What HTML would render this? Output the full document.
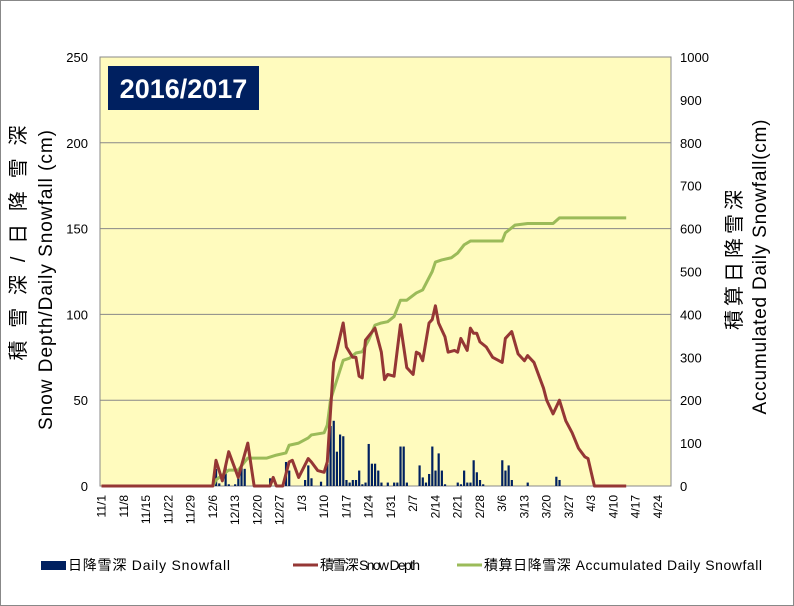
<!DOCTYPE html>
<html><head><meta charset="utf-8"><style>
body{margin:0;background:#fff;}
svg{display:block;font-family:"Liberation Sans","Noto Sans CJK JP",sans-serif;}
</style></head><body>
<svg id="chart" width="794" height="606">
<rect x="0.5" y="0.5" width="793" height="605" fill="#fff" stroke="#888"/>
<rect x="100" y="57" width="571" height="429" fill="#FFFBBE" stroke="#888"/>
<g id="grid"></g><g id="bars"></g><g id="lines"></g><g id="axes"></g>
<rect x="108" y="66" width="151" height="44" fill="#002060"/>
<text x="183.5" y="98" text-anchor="middle" font-size="27" font-weight="bold" fill="#fff">2016/2017</text>
<text transform="translate(25,243) rotate(-90)" text-anchor="middle" font-size="20" textLength="235" fill="#000">積雪深/日降雪深</text>
<text transform="translate(52,280) rotate(-90)" text-anchor="middle" font-size="19" textLength="300" fill="#000">Snow Depth/Daily Snowfall (cm)</text>
<text transform="translate(741,260) rotate(-90)" text-anchor="middle" font-size="20" textLength="140" fill="#000">積算日降雪深</text>
<text transform="translate(766,267) rotate(-90)" text-anchor="middle" font-size="19" textLength="295" fill="#000">Accumulated Daily Snowfall(cm)</text>
<g>
<rect x="41" y="561" width="25" height="9" fill="#002060"/>
<text x="68" y="570" font-size="14" textLength="162">日降雪深 Daily Snowfall</text>
<line x1="293" y1="565" x2="318" y2="565" stroke="#953735" stroke-width="3"/>
<text x="320" y="570" font-size="14" textLength="100">積雪深 Snow Depth</text>
<line x1="457" y1="565" x2="482" y2="565" stroke="#9BBB59" stroke-width="3"/>
<text x="484" y="570" font-size="14" textLength="278">積算日降雪深 Accumulated Daily Snowfall</text>
</g>
</svg>
<script>
const dateLabels=["11/1","11/8","11/15","11/22","11/29","12/6","12/13","12/20","12/27","1/3","1/10","1/17","1/24","1/31","2/7","2/14","2/21","2/28","3/6","3/13","3/20","3/27","4/3","4/10","4/17","4/24"];
const leftTicks=[0,50,100,150,200,250];
const rightTicks=[0,100,200,300,400,500,600,700,800,900,1000];
const barDays=[36,37,39,40,42,43,44,45,53,58,59,64,65,66,69,71,72,73,74,75,76,77,78,79,80,81,82,83,84,85,86,87,88,90,92,93,94,95,96,100,101,102,103,104,105,106,107,108,112,113,114,115,116,117,118,119,120,126,127,128,129,134,143,144];
const barVals=[10,1.5,12,1,1,4.5,12,10,4.5,14,9,3.5,12,4.5,2.5,13,35,38,20,30,29,3.5,2,3.5,3.5,9,1,2,24.5,13,13,9,2,2,2,2,23,23,2,12,5,2,7,23,9,19,9,1,2,1,9,2,2,15,8,3.5,1,15,9,12,3.5,2,5.4,3.5];
const depthDays=[0,35,36,38,40,43,46,48,53,54,55,57,59,60,62,65,66,68,70,71,73,74,76,77,79,80,81,82,83,86,88,89,90,92,94,96,98,99,100,101,103,104,105,106,108,109,111,112,113,115,116,117,118,119,121,123,126,127,129,131,133,134,136,139,140,142,144,146,148,150,152,153,155,165];
const depthVals=[0,0,15,3,20,5,25,0,0,5,0,0,14,15,5,16,14,9,8,14,72,79,95,81,75,75,64,63,85,92,78,62,65,64,94,69,65,78,77,73,95,97,105,95,87,78,79,78,86,79,92,89,89,84,81,75,72,86,90,77,73,76,72,57,50,42,50,38,31,22,17,16,0,0];
const accDays=[0,35,36,40,43,45,46,52,55,58,59,62,65,66,70,71,72,74,76,78,80,82,84,86,88,90,92,94,96,99,101,104,105,107,110,112,114,116,118,126,127,130,134,142,144,165];
const accVals=[0,0,14,37,37,56,65,65,72,77,95,100,112,119,124,142,200,247,293,298,310,313,340,375,380,383,395,433,433,450,457,500,522,527,532,543,562,571,571,571,590,608,612,612,625,625];
const NS="http://www.w3.org/2000/svg";
const X0=100,X1=671,Y0=486,Y1=57;
function xs(d){return 101.5+3.18*d;}
function yl(v){return Y0-(v/250)*(Y0-Y1);}
function yr(v){return Y0-(v/1000)*(Y0-Y1);}
function mk(t,a,p){const e=document.createElementNS(NS,t);for(const k in a)e.setAttribute(k,a[k]);p.appendChild(e);return e;}
const grid=document.getElementById('grid'),axes=document.getElementById('axes'),bars=document.getElementById('bars'),lines=document.getElementById('lines');
leftTicks.forEach(v=>{
 if(v>0&&v<250){const g=mk('line',{x1:X0,x2:X1,y1:yl(v),y2:yl(v),stroke:'#888','stroke-width':1},grid);
 
 }
 const t=mk('text',{x:88,y:yl(v)+5,'text-anchor':'end','font-size':13},axes);t.textContent=v;
 
 
});
rightTicks.forEach(v=>{
 const t=mk('text',{x:680,y:yr(v)+5,'font-size':13},axes);t.textContent=v;
 
 
});
dateLabels.forEach((s,i)=>{
 const x=xs(i*7);
 const t=mk('text',{transform:`translate(${x+4},495) rotate(-90)`,'text-anchor':'end','font-size':12},axes);t.textContent=s;
 
 
});
barDays.forEach((d,i)=>{
 const y=yl(barVals[i]);
 const r=mk('rect',{x:xs(d)-1,y:y,width:2.2,height:Y0-y,fill:'#002060'},bars);
 
 
});
function poly(days,vals,f,col,name){
 const p=mk('polyline',{points:days.map((d,i)=>xs(d)+','+f(vals[i])).join(' '),fill:'none',stroke:col,'stroke-width':3,'stroke-linejoin':'round'},lines);
 
 
}
poly(accDays,accVals,yr,'#9BBB59','accumulated-snowfall-line');
poly(depthDays,depthVals,yl,'#953735','snow-depth-line');
</script>
</body></html>
